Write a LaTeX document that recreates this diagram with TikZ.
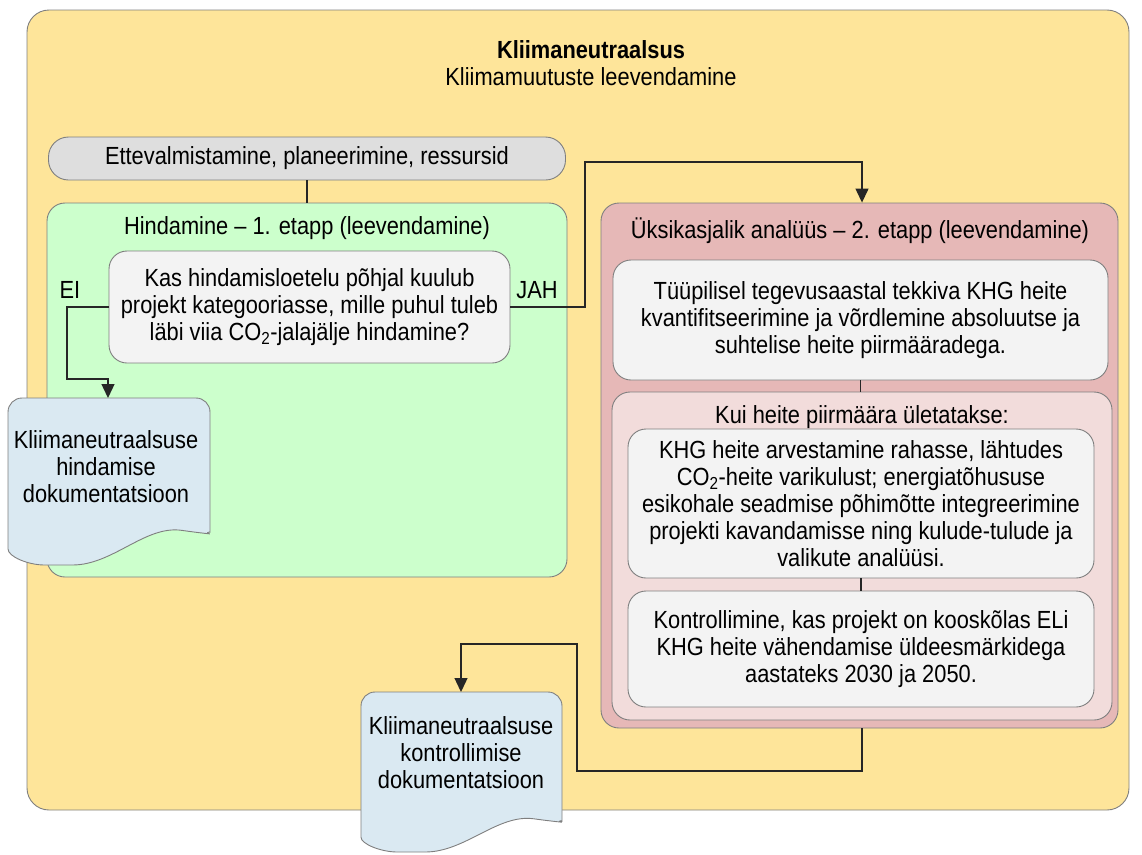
\documentclass[tikz,border=0pt]{standalone}
\usepackage{fontspec}
\setmainfont{Liberation Sans}[FakeStretch=0.88]
\usetikzlibrary{arrows.meta,calc}
\definecolor{yel}{HTML}{FEE59A}
\definecolor{grayf}{HTML}{DEDEDE}
\definecolor{greenf}{HTML}{CCFFCC}
\definecolor{whitef}{HTML}{F3F3F3}
\definecolor{docf}{HTML}{DAE9F2}
\definecolor{redf}{HTML}{E6B8B7}
\definecolor{pinkf}{HTML}{F2DCDB}
\definecolor{bd}{HTML}{7F7F7F}
\tikzset{
  txt/.style={align=center, inner sep=0pt, font=\fontsize{24.8}{27}\selectfont},
  box/.style={txt, draw=bd, line width=0.9pt, rounded corners=18pt},
  line/.style={draw=black!85, line width=1.3pt},
  arr/.style={line, -{Triangle[width=13pt,length=14pt]}},
  docshape/.style={draw=bd, line width=0.9pt, fill=docf, rounded corners=14pt}
}
\begin{document}
\begin{tikzpicture}[x=1pt,y=-1pt]
\useasboundingbox (0,0) rectangle (1142,854);
% outer
\node[box, fill=yel, minimum width=1102, minimum height=800, rounded corners=22pt] (outer) at (578,410) {};
\node[txt] (title) at (591,63) {\textbf{Kliimaneutraalsus}\\Kliimamuutuste leevendamine};
% preparation
\node[box, fill=grayf, rounded corners=20pt, minimum width=517, minimum height=43] (prep) at (307,158.5) {Ettevalmistamine, planeerimine, ressursid};
% green stage
\node[box, fill=greenf, minimum width=520, minimum height=374] (green) at (307,390) {};
\node[txt] (greent) at (307,228) {Hindamine – 1. etapp (leevendamine)};
\draw[line] (prep) -- (green);
\node[box, fill=whitef, minimum width=401, minimum height=112] (q) at (309.5,307) {Kas hindamisloetelu põhjal kuulub\\projekt kategooriasse, mille puhul tuleb\\läbi viia CO\textsubscript{2}-jalajälje hindamine?};
\node[txt] (ei) at (70,290) {EI};
\node[txt] (jah) at (537,290) {JAH};
% red stage
\node[box, fill=redf, minimum width=517, minimum height=525] (red) at (859.5,465.5) {};
\node[txt] (redt) at (860,231) {Üksikasjalik analüüs – 2. etapp (leevendamine)};
\node[box, fill=whitef, minimum width=495, minimum height=120] (box1) at (860.5,320) {Tüüpilisel tegevusaastal tekkiva KHG heite\\kvantifitseerimine ja võrdlemine absoluutse ja\\suhtelise heite piirmääradega.};
\node[box, fill=pinkf, minimum width=500, minimum height=328] (inner) at (862,556) {};
\node[txt] (innert) at (862,417) {Kui heite piirmäära ületatakse:};
\node[box, fill=whitef, minimum width=466, minimum height=149] (box2) at (861,503.5) {KHG heite arvestamine rahasse, lähtudes\\CO\textsubscript{2}-heite varikulust; energiatõhususe\\esikohale seadmise põhimõtte integreerimine\\projekti kavandamisse ning kulude-tulude ja\\valikute analüüsi.};
\node[box, fill=whitef, minimum width=466, minimum height=116] (box3) at (861,649) {Kontrollimine, kas projekt on kooskõlas ELi\\KHG heite vähendamise üldeesmärkidega\\aastateks 2030 ja 2050.};
\draw[line] (box1.south) -- (box1.south |- inner.north);
\draw[line] (box2.south) -- (box2.south |- box3.north);
% documents
\node[minimum width=202, minimum height=167, anchor=north west, inner sep=0pt] (doc1) at (8,398) {};
\begin{scope}[shift={(doc1.north west)}, x=202pt, y=-167pt]
\path[docshape] (0,0.82) -- (0,0) -- (1,0) -- (1,0.72) .. controls (1,0.8) and (0.97,0.81) .. (0.93,0.805) .. controls (0.68,0.76) and (0.52,1.0) .. (0.25,1.0) .. controls (0.1,1.0) and (0,0.95) .. (0,0.82) -- cycle;
\end{scope}
\node[txt] (doc1t) at (106,467) {Kliimaneutraalsuse\\hindamise\\dokumentatsioon};
\node[minimum width=201, minimum height=160, anchor=north west, inner sep=0pt] (doc2) at (361,692) {};
\begin{scope}[shift={(doc2.north west)}, x=201pt, y=-160pt]
\path[docshape] (0,0.82) -- (0,0) -- (1,0) -- (1,0.72) .. controls (1,0.8) and (0.97,0.81) .. (0.93,0.805) .. controls (0.68,0.76) and (0.52,1.0) .. (0.25,1.0) .. controls (0.1,1.0) and (0,0.95) .. (0,0.82) -- cycle;
\end{scope}
\node[txt] (doc2t) at (461,753) {Kliimaneutraalsuse\\kontrollimise\\dokumentatsioon};
% connectors
\coordinate (e1) at (67,307);
\coordinate (e2) at (108,379);
\draw[arr] (q.west) -- (e1) |- (e2) -- (e2 |- doc1.north);
\coordinate (j1) at (585,307);
\coordinate (j2) at (862,162);
\draw[arr] (q.east) -- (j1) |- (j2) -- (j2 |- red.north);
\coordinate (b1) at (862,771);
\coordinate (b2) at (577,644);
\coordinate (b3) at (461,644);
\draw[arr] (b1 |- red.south) -- (b1) -| (b2) -- (b3) -- (b3 |- doc2.north);
\end{tikzpicture}
\end{document}
